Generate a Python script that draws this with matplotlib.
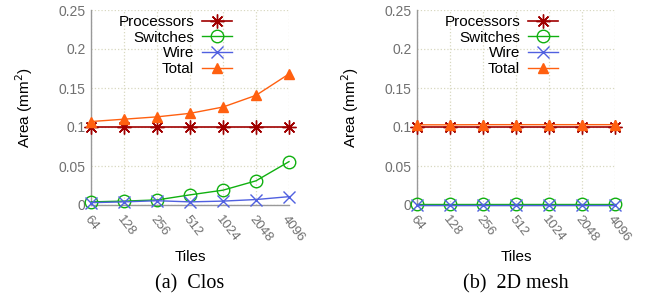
import matplotlib.pyplot as plt

plt.rcParams['font.family'] = ['Liberation Sans', 'DejaVu Sans']

# 数据
tiles = ['64', '128', '256', '512', '1024', '2048', '4096']

clos_processors = [0.1, 0.1, 0.1, 0.1, 0.1, 0.1, 0.1]
clos_switches = [0.004, 0.005, 0.0065, 0.013, 0.019, 0.031, 0.0556]
clos_wire = [0.003, 0.004, 0.0055, 0.004, 0.005, 0.007, 0.0107]
clos_total = [0.107, 0.110, 0.113, 0.1175, 0.1256, 0.1406, 0.168]

mesh_processors = [0.1, 0.1, 0.1, 0.1, 0.1, 0.1, 0.1]
mesh_switches = [0.0012, 0.0012, 0.0012, 0.0012, 0.0012, 0.0012, 0.0012]
mesh_wire = [0.0006, 0.0006, 0.0006, 0.0006, 0.0006, 0.0006, 0.0006]
mesh_total = [0.1028, 0.1028, 0.1030, 0.1030, 0.1030, 0.1030, 0.1030]

captions = ['(a)  Clos', '(b)  2D mesh']

fig = plt.figure(figsize=(6.54, 3.02), dpi=100)
ax1 = fig.add_axes([91 / 654, 1 - 205 / 302, 198 / 654, 195 / 302])
ax2 = fig.add_axes([417 / 654, 1 - 205 / 302, 198 / 654, 195 / 302])

gray = '#707070'
for ax, (p, s, w, t), cap in zip(
        [ax1, ax2],
        [(clos_processors, clos_switches, clos_wire, clos_total),
         (mesh_processors, mesh_switches, mesh_wire, mesh_total)],
        captions):
    x = list(range(len(tiles)))
    ax.plot(x, p, color='#a00000', marker=(8, 2, 0), markersize=10, lw=1.2,
            mew=1.0, label='Processors', clip_on=False, zorder=3)
    ax.plot(x, s, color='#10b010', marker='o', markersize=9, mfc='none', lw=1.0,
            mew=1.0, label='Switches', clip_on=False, zorder=3)
    ax.plot(x, w, color='#5060e0', marker='x', markersize=9, lw=1.0,
            mew=1.0, label='Wire', clip_on=False, zorder=3)
    ax.plot(x, t, color='#ff6010', marker='^', markersize=7, lw=1.0,
            label='Total', clip_on=False, zorder=3)

    ax.set_xlim(0, 6)
    ax.set_ylim(0, 0.25)
    ax.set_xticks(x)
    ax.set_xticklabels(tiles, rotation=-52, ha='left', rotation_mode='anchor',
                       color=gray, fontsize=9.5)
    ax.set_yticks([0, 0.05, 0.1, 0.15, 0.2, 0.25])
    ax.set_yticklabels(['0', '0.05', '0.1', '0.15', '0.2', '0.25'], color=gray,
                       fontsize=10)
    ax.tick_params(axis='both', length=0, pad=4)
    ax.tick_params(axis='x', pad=6)
    for side in ['top', 'right']:
        ax.spines[side].set_visible(False)
    for side in ['left', 'bottom']:
        ax.spines[side].set_color('#999999')
        ax.spines[side].set_linewidth(1.0)
    ax.grid(True, linestyle=':', color='#d8d8c0', linewidth=0.9)
    ax.set_axisbelow(True)
    ax.set_xlabel('Tiles', fontsize=11, labelpad=4)
    ax.set_ylabel('Area (mm$^2$)', fontsize=11, labelpad=17)
    ax.legend(loc='upper right', bbox_to_anchor=(0.76, 1.02), frameon=False,
              markerfirst=False, fontsize=11, handlelength=2.0,
              handletextpad=0.5, labelspacing=0.1, borderaxespad=0.2)
    ax.text(0.5, -0.405, cap, transform=ax.transAxes, ha='center', va='center',
            fontsize=14.5, family=['Liberation Serif', 'DejaVu Serif'])

fig.savefig('out.png', dpi=100)
